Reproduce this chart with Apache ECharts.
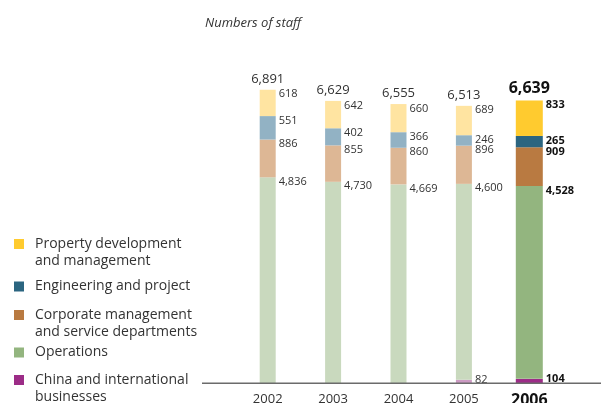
<!DOCTYPE html>
<html>
<head>
<meta charset="utf-8">
<script src="https://cdn.jsdelivr.net/npm/echarts@6/dist/echarts.min.js"></script>
<style>
    html, body { margin: 0; padding: 0; background: #fff; }
    #chart { width: 601px; height: 403px; }
</style>
</head>
<body>
<div id="chart"></div>
<script>
// values
var years = ['2002', '2003', '2004', '2005', '2006'];
var china = [null, null, null, 82, 104];
var operations = [4836, 4730, 4669, 4600, 4528];
var corporate = [886, 855, 860, 896, 909];
var engineering = [551, 402, 366, 246, 265];
var property = [618, 642, 660, 689, 833];
var totals = [6891, 6629, 6555, 6513, 6639];

// bottom to top
var names = [
    'China and international businesses',
    'Operations',
    'Corporate management and service departments',
    'Engineering and project',
    'Property development and management'
];
var legendLines = [
    'China and international\nbusinesses',
    'Operations',
    'Corporate management\nand service departments',
    'Engineering and project',
    'Property development\nand management'
];
var values = [china, operations, corporate, engineering, property];
var strongColors = ['#9c2c87', '#93b57f', '#b97a41', '#2b6580', '#ffcb2f'];
var paleColors = ['#cc9bc3', '#c9d9be', '#ddb795', '#92b2c4', '#ffe4a1'];
var current = 4; // 2006 is drawn strong

var font = '"Open Sans", sans-serif';
var fmt = function (v) { return v.toLocaleString('en-US'); };

var myChart = echarts.init(document.getElementById('chart'));

var series = [];
values.forEach(function (vals, k) {
    [0, 1].forEach(function (axis) {
        var strong = axis === 1;
        var label = {
            show: true,
            fontFamily: font,
            fontSize: 11,
            fontWeight: strong ? 'bold' : 'normal',
            color: strong ? '#111' : '#333',
            align: 'left',
            formatter: function (p) { return fmt(p.value); }
        };
        if (k === 0) {
            label.position = ['100%', '50%'];
            label.verticalAlign = 'middle';
            label.offset = [3, -2];
        } else {
            label.position = ['100%', 0];
            label.verticalAlign = 'top';
            label.offset = [3, -1];
        }
        series.push({
            name: names[k],
            type: 'bar',
            xAxisIndex: axis,
            stack: strong ? 'now' : 'before',
            barWidth: strong ? 27 : 16,
            data: vals.map(function (v, i) {
                return ((i === current) === strong && v != null) ? v : '-';
            }),
            itemStyle: { color: strong ? strongColors[k] : paleColors[k] },
            label: label,
            emphasis: { disabled: true }
        });
    });
});

// totals on top of each stack
[0, 1].forEach(function (axis) {
    var strong = axis === 1;
    series.push({
        name: 'Total',
        type: 'bar',
        xAxisIndex: axis,
        stack: strong ? 'now' : 'before',
        barWidth: strong ? 27 : 16,
        data: totals.map(function (v, i) { return (i === current) === strong ? 0 : '-'; }),
        itemStyle: { color: 'transparent' },
        label: {
            show: true,
            position: 'top',
            distance: 4,
            fontFamily: font,
            fontSize: strong ? 16 : 13,
            fontWeight: strong ? 'bold' : 'normal',
            color: strong ? '#111' : '#333',
            formatter: function (p) { return fmt(totals[p.dataIndex]); }
        },
        emphasis: { disabled: true }
    });
});

// one legend per entry; a blank first line keeps the square on the first text line
var legendTops = [354.5, 344, 289.5, 278, 218.5];
var legends = names.map(function (n, k) {
    var twoLines = legendLines[k].indexOf('\n') >= 0;
    return {
        orient: 'vertical',
        left: 14,
        top: legendTops[k],
        padding: 0,
        icon: 'rect',
        itemWidth: 10,
        itemHeight: 10,
        selectedMode: false,
        data: [{ name: n, itemStyle: { color: strongColors[k] } }],
        formatter: function () { return (twoLines ? '\n' : '') + legendLines[k]; },
        textStyle: {
            fontFamily: font,
            fontSize: 14,
            color: '#333',
            lineHeight: 17,
            padding: [0, 0, 0, 6]
        }
    };
});

var option = {
    animation: false,
    title: {
        text: 'Numbers of staff',
        left: 200,
        top: 12,
        textStyle: {
            fontFamily: font,
            fontSize: 13,
            fontStyle: 'italic',
            fontWeight: 'normal',
            color: '#333'
        }
    },
    legend: legends,
    grid: {
        left: 235,
        right: 39,
        top: 42.5,
        bottom: 19.7,
        outerBoundsMode: 'none'
    },
    xAxis: [{
        type: 'category',
        data: years,
        axisLine: { show: false },
        axisTick: { show: false },
        axisLabel: {
            interval: 0,
            margin: 9,
            fontFamily: font,
            fontSize: 13,
            color: '#333',
            formatter: function (v, i) { return i === current ? '{b|' + v + '}' : v; },
            rich: {
                b: { fontFamily: font, fontSize: 16, fontWeight: 'bold', color: '#111' }
            }
        }
    }, {
        type: 'category',
        data: years,
        show: false
    }],
    yAxis: {
        type: 'value',
        min: 0,
        max: 8000,
        show: false
    },
    graphic: [{
        type: 'line',
        shape: { x1: 202, y1: 383.3, x2: 601, y2: 383.3 },
        style: { stroke: '#6b6b6b', lineWidth: 1.5 },
        z: 100
    }],
    series: series
};
myChart.setOption(option);
</script>
</body>
</html>
